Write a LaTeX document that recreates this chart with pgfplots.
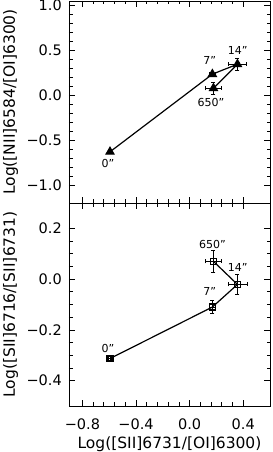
\documentclass[border=0pt]{standalone}
\usepackage{pgfplots}
\pgfplotsset{compat=1.18}
\usepackage{fontspec}
\setmainfont{DejaVu Sans}
\newcommand{\sq}{{\char34}}
\tikzset{lab/.style={font=\fontsize{11}{13}\selectfont, inner sep=0pt}}
\begin{document}
\begin{tikzpicture}
\pgfplotsset{
  common/.style={
    scale only axis, width=201pt,
    xmin=-0.9, xmax=0.6,
    xtick={-0.8,-0.4,0,0.4},
    minor x tick num=4,
    tick align=inside, major tick length=6pt, minor tick length=3.5pt,
    axis line style={line width=0.9pt}, every tick/.style={line width=0.7pt, black},
    tick label style={font=\fontsize{14.5}{16}\selectfont},
    label style={font=\fontsize{15.5}{17}\selectfont},
    yticklabel style={inner sep=0pt, xshift=-7pt},
    ylabel style={at={(axis description cs:0,0.5)}, anchor=base, inner sep=0pt, yshift=54pt},
    error bars/error bar style={line width=0.6pt},
    error bars/error mark options={rotate=90, mark size=2pt, line width=0.6pt},
  },
}
\begin{axis}[common, name=bot, at={(0,0)}, height=203pt,
  ymin=-0.5, ymax=0.3, ytick={-0.4,-0.2,0,0.2}, minor y tick num=3,
  yticklabels={−0.4,−0.2,0.0,0.2},
  xticklabels={−0.8,−0.4,0.0,0.4},
  xlabel={Log([SII]6731/[OI]6300)},
  ylabel={Log([SII]6716/[SII]6731)},
  xticklabel style={anchor=base, inner sep=0pt, yshift=-23pt},
  xlabel style={at={(axis description cs:0.5,0)}, anchor=base, inner sep=0pt, yshift=-42pt},
  ]
\addplot[black, line width=1.2pt, mark=square, mark size=3pt, mark options={line width=1.4pt, solid},
  error bars/.cd, x dir=both, x explicit, y dir=both, y explicit]
  coordinates {
  (-0.594,-0.313) +- (0.01,0.008)
  (0.170,-0.110) +- (0.02,0.025)
  (0.357,-0.021) +- (0.07,0.040)
  (0.178,0.070) +- (0.06,0.043)
  };
\node[lab] at (axis cs:-0.61,-0.275) {0\sq};
\node[lab] at (axis cs:0.15,-0.048) {7\sq};
\node[lab] at (axis cs:0.36,0.044) {14\sq};
\node[lab] at (axis cs:0.17,0.135) {650\sq};
\end{axis}
\begin{axis}[common, name=top, at={(0,203pt)}, height=202pt,
  ymin=-1.2, ymax=1.05, ytick={-1,-0.5,0,0.5,1}, minor y tick num=4,
  yticklabels={−1.0,−0.5,0.0,0.5,1.0},
  xticklabels={},
  ylabel={Log([NII]6584/[OI]6300)},
  ]
\addplot[black, line width=1.2pt, mark=triangle*, mark size=4.5pt, mark options={solid},
  error bars/.cd, x dir=both, x explicit, y dir=both, y explicit]
  coordinates {
  (-0.594,-0.630) +- (0.01,0.01)
  (0.170,0.235) +- (0.02,0.02)
  (0.357,0.346) +- (0.067,0.07)
  (0.178,0.078) +- (0.06,0.065)
  };
\node[lab] at (axis cs:-0.61,-0.76) {0\sq};
\node[lab] at (axis cs:0.15,0.39) {7\sq};
\node[lab] at (axis cs:0.36,0.50) {14\sq};
\node[lab] at (axis cs:0.16,-0.08) {650\sq};
\end{axis}
\pgfresetboundingbox
\path ([xshift=-69pt,yshift=-46pt]bot.south west) rectangle ([xshift=2pt,yshift=1pt]top.north east);
\end{tikzpicture}
\end{document}
